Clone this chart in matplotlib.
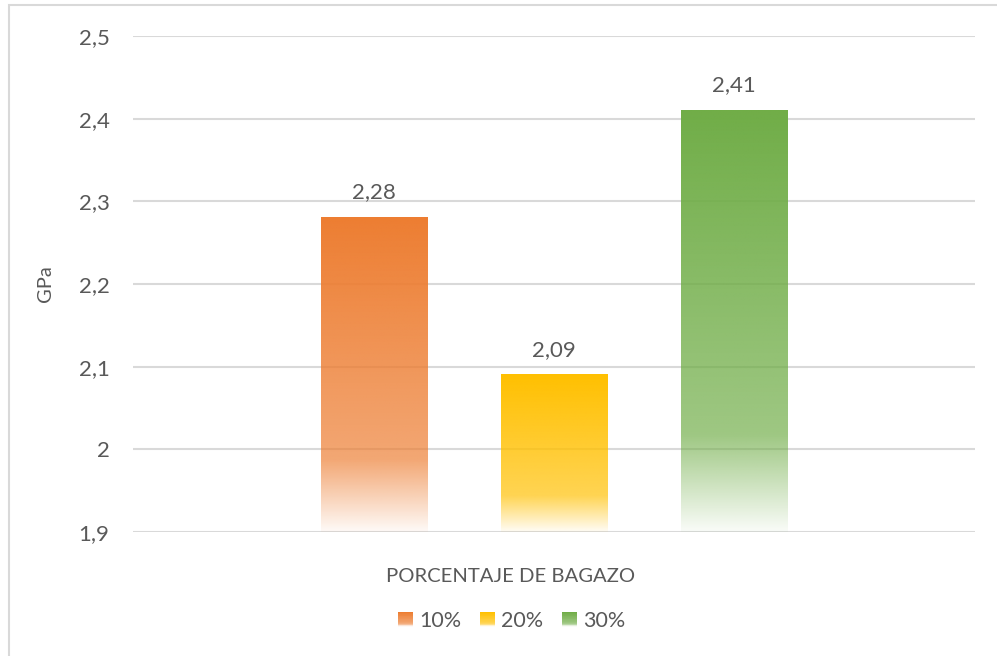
import numpy as np
import matplotlib
matplotlib.use("Agg")
import matplotlib.pyplot as plt
from matplotlib.colors import to_rgb
from matplotlib.patches import Rectangle
from matplotlib.legend_handler import HandlerBase
from matplotlib.ticker import FuncFormatter, MultipleLocator

plt.rcParams["font.family"] = ["Lato", "DejaVu Sans"]

series = ["10%", "20%", "30%"]
values = [2.28, 2.09, 2.41]
colors = ["#ED7D31", "#FFC000", "#70AD47"]
y_min, y_max = 1.9, 2.5

TEXT = "#595959"
GRID = "#D9D9D9"


def fade_alpha(n):
    # alpha from bar top (t=0) to bar bottom (t=1)
    t = np.linspace(0, 1, n)
    return np.where(t < 0.77, 1 - 0.32 * t / 0.77, 0.68 - 0.64 * (t - 0.77) / 0.23)


def gradient_rgba(color, n=256):
    rgba = np.zeros((n, 1, 4))
    rgba[:, 0, :3] = to_rgb(color)
    rgba[:, 0, 3] = fade_alpha(n)
    return rgba


class GradientHandler(HandlerBase):
    def __init__(self, color):
        super().__init__()
        self.color = color

    def create_artists(self, legend, orig_handle, xdescent, ydescent,
                       width, height, fontsize, trans):
        n = 20
        side = min(width, height) * 0.95
        x0 = xdescent + width - side
        y0 = -ydescent + (height - side) / 2
        alphas = fade_alpha(n)
        arts = []
        for i in range(n):
            r = Rectangle((x0, y0 + side - (i + 1) * side / n), side, side / n,
                          facecolor=self.color, alpha=alphas[i], lw=0,
                          transform=trans)
            arts.append(r)
        return arts


fig = plt.figure(figsize=(9.97, 6.56), dpi=100)
ax = fig.add_axes([133 / 997, 1 - 532 / 656, (975 - 133) / 997, (532 - 36) / 656])

x = np.arange(len(values)) - 1
width = 0.594
for xi, v, c in zip(x, values, colors):
    ax.imshow(gradient_rgba(c), extent=(xi - width / 2, xi + width / 2, y_min, v),
              aspect="auto", interpolation="bilinear", zorder=3, origin="upper")
    ax.annotate(f"{v:.2f}".replace(".", ","), (xi, v), xytext=(0, 11),
                textcoords="offset points", ha="center", va="bottom",
                fontsize=16, color=TEXT, zorder=4)

ax.set_xlim(-2.339, 2.339)
ax.set_ylim(y_min, y_max)
ax.yaxis.set_major_locator(MultipleLocator(0.1))
ax.yaxis.set_major_formatter(FuncFormatter(lambda v, _: f"{round(v, 2):g}".replace(".", ",")))
ax.set_xticks([])
ax.tick_params(axis="y", length=0, pad=17, labelsize=16, labelcolor=TEXT)
ax.grid(axis="y", color=GRID, lw=1.5)
ax.set_axisbelow(True)
for s in ax.spines.values():
    s.set_visible(False)

fig.text(45 / 997, 1 - 284 / 656, "GPa", rotation=90, ha="center", va="center",
         fontsize=14.5, color=TEXT)
fig.text(511 / 997, 1 - 577 / 656, "PORCENTAJE DE BAGAZO", ha="center", va="center",
         fontsize=14.6, color=TEXT)

handles = [Rectangle((0, 0), 1, 1) for _ in series]
leg = fig.legend(handles, series, loc="center", bbox_to_anchor=(511 / 997, 1 - 621 / 656),
                 ncol=3, frameon=False, fontsize=15.5, handlelength=0.75, handleheight=0.75,
                 handletextpad=0.3, columnspacing=0.8,
                 handler_map={h: GradientHandler(c) for h, c in zip(handles, colors)})
for t in leg.get_texts():
    t.set_color(TEXT)

fig.patches.append(Rectangle((8.5 / 997, -0.05), 1.0, 1.05 - 5.5 / 656,
                             transform=fig.transFigure, fill=False,
                             edgecolor=GRID, lw=1.5))

fig.savefig("out.png", dpi=100, facecolor="white")
